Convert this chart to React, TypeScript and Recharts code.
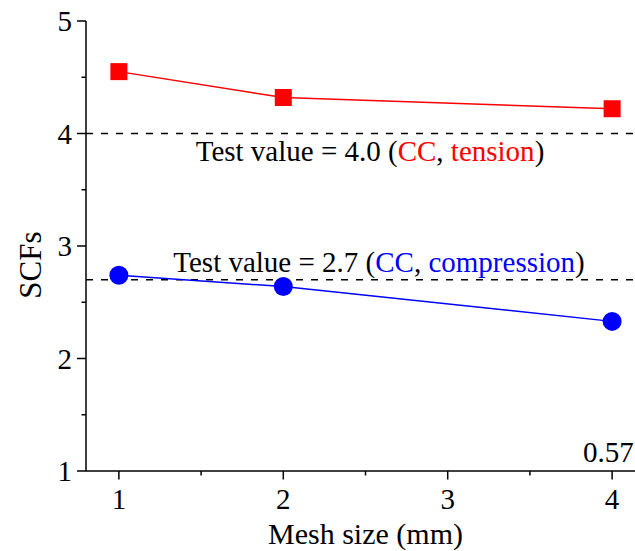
import React from 'react';
import { LineChart, Line, XAxis, YAxis, ReferenceLine } from 'recharts';

const meshSizes = [1, 2, 4];
const tensionSCF = [4.55, 4.32, 4.22];
const compressionSCF = [2.74, 2.64, 2.33];
const xTicks = [1, 1.5, 2, 2.5, 3, 3.5, 4];
const yTicks = [1, 1.5, 2, 2.5, 3, 3.5, 4, 4.5, 5];
const tensionTest = 4.0;
const compressionTest = 2.7;
const cornerNote = '0.57';

const data = meshSizes.map((m, i) => ({
  mesh: m,
  tension: tensionSCF[i],
  compression: compressionSCF[i],
}));

const FONT = '"Liberation Serif", "Times New Roman", serif';
const RED = '#ff0000';
const BLUE = '#0000ff';

const isMajor = (v: number) => Math.abs(v - Math.round(v)) < 1e-9;

const BottomTick = (props: any) => {
  const { x, y, payload } = props;
  const major = isMajor(payload.value);
  return (
    <g>
      <line x1={x} x2={x} y1={y} y2={y + (major ? 8.5 : 4.5)} stroke="#000" strokeWidth={1.5} />
      {major && (
        <text x={x} y={y + 38} textAnchor="middle" fontFamily={FONT} fontSize={29} fill="#000">
          {payload.value}
        </text>
      )}
    </g>
  );
};

const TopTick = (props: any) => {
  const { x, y } = props;
  return <line x1={x} x2={x} y1={y} y2={y + 3} stroke="#000" strokeWidth={1} />;
};

const LeftTick = (props: any) => {
  const { x, y, payload } = props;
  const major = isMajor(payload.value);
  return (
    <g>
      <line x1={x - (major ? 9 : 4.5)} x2={x} y1={y} y2={y} stroke="#000" strokeWidth={1.5} />
      {major && (
        <text x={x - 14} y={y + 10} textAnchor="end" fontFamily={FONT} fontSize={29} fill="#000">
          {payload.value}
        </text>
      )}
    </g>
  );
};

const SquareDot = (props: any) => {
  const { cx, cy } = props;
  if (cx == null || cy == null) return null;
  return <rect x={cx - 8.5} y={cy - 8.5} width={17} height={17} fill={RED} />;
};

const CircleDot = (props: any) => {
  const { cx, cy } = props;
  if (cx == null || cy == null) return null;
  return <circle cx={cx} cy={cy} r={9.5} fill={BLUE} />;
};

const TensionLabel = (props: any) => {
  const { viewBox } = props;
  return (
    <text x={viewBox.x + 284} y={viewBox.y + 27} textAnchor="middle" fontFamily={FONT} fontSize={29} fill="#000">
      <tspan>{'Test value = 4.0 ('}</tspan>
      <tspan fill={RED}>CC</tspan>
      <tspan>{', '}</tspan>
      <tspan fill={RED}>tension</tspan>
      <tspan>)</tspan>
    </text>
  );
};

const CompressionLabel = (props: any) => {
  const { viewBox } = props;
  return (
    <text x={viewBox.x + 293} y={viewBox.y - 8} textAnchor="middle" fontFamily={FONT} fontSize={29} fill="#000">
      <tspan>{'Test value = 2.7 ('}</tspan>
      <tspan fill={BLUE}>CC</tspan>
      <tspan>{', '}</tspan>
      <tspan fill={BLUE}>compression</tspan>
      <tspan>)</tspan>
    </text>
  );
};

const NoteLabel = (props: any) => {
  const { viewBox } = props;
  return (
    <text x={viewBox.x + 497} y={viewBox.y - 9.5} textAnchor="start" fontFamily={FONT} fontSize={29} fill="#000">
      {cornerNote}
    </text>
  );
};

const XTitle = (props: any) => {
  const { viewBox } = props;
  return (
    <text x={viewBox.x + viewBox.width / 2} y={viewBox.y + 73} textAnchor="middle" fontFamily={FONT} fontSize={30} fill="#000">
      Mesh size (mm)
    </text>
  );
};

const YTitle = () => {
  const cx = 41;
  const cy = 265;
  return (
    <text x={cx} y={cy} transform={`rotate(-90 ${cx} ${cy})`} textAnchor="middle" fontFamily={FONT} fontSize={31} fill="#000">
      SCFs
    </text>
  );
};

export default function App() {
  return (
    <div style={{ position: 'fixed', left: 0, top: 0, width: 635, height: 551, overflow: 'hidden', background: '#fff' }}>
      <LineChart
        width={660}
        height={551}
        data={data}
        margin={{ top: 21, right: 15, bottom: 20, left: 0 }}
      >
        <XAxis
          xAxisId="bottom"
          dataKey="mesh"
          type="number"
          domain={[0.8, 4.2]}
          ticks={xTicks}
          allowDataOverflow
          orientation="bottom"
          height={60}
          tickSize={0}
          tickMargin={0}
          tickLine={false}
          tick={<BottomTick />}
          interval={0}
          axisLine={{ stroke: '#000', strokeWidth: 1.5 }}
          label={<XTitle />}
        />
        <XAxis
          xAxisId="top"
          dataKey="mesh"
          type="number"
          domain={[0.8, 4.2]}
          ticks={xTicks}
          allowDataOverflow
          orientation="top"
          height={0}
          tickSize={0}
          tickMargin={0}
          tickLine={false}
          tick={<TopTick />}
          interval={0}
          axisLine={{ stroke: '#000', strokeWidth: 1.5 }}
        />
        <YAxis
          type="number"
          domain={[1, 5]}
          ticks={yTicks}
          allowDataOverflow
          width={86}
          tickSize={0}
          tickMargin={0}
          tickLine={false}
          tick={<LeftTick />}
          interval={0}
          axisLine={{ stroke: '#000', strokeWidth: 1.5 }}
          label={<YTitle />}
        />
        <ReferenceLine
          xAxisId="bottom"
          y={tensionTest}
          stroke="#000"
          strokeWidth={1.5}
          strokeDasharray="7 8"
          label={<TensionLabel />}
        />
        <ReferenceLine
          xAxisId="bottom"
          y={compressionTest}
          stroke="#000"
          strokeWidth={1.5}
          strokeDasharray="7 8"
          label={<CompressionLabel />}
        />
        <ReferenceLine
          xAxisId="bottom"
          y={1}
          stroke="none"
          label={<NoteLabel />}
        />
        <Line
          xAxisId="bottom"
          type="linear"
          dataKey="tension"
          stroke={RED}
          strokeWidth={1.5}
          dot={<SquareDot />}
          activeDot={false}
          isAnimationActive={false}
        />
        <Line
          xAxisId="bottom"
          type="linear"
          dataKey="compression"
          stroke={BLUE}
          strokeWidth={1.5}
          dot={<CircleDot />}
          activeDot={false}
          isAnimationActive={false}
        />
      </LineChart>
    </div>
  );
}
